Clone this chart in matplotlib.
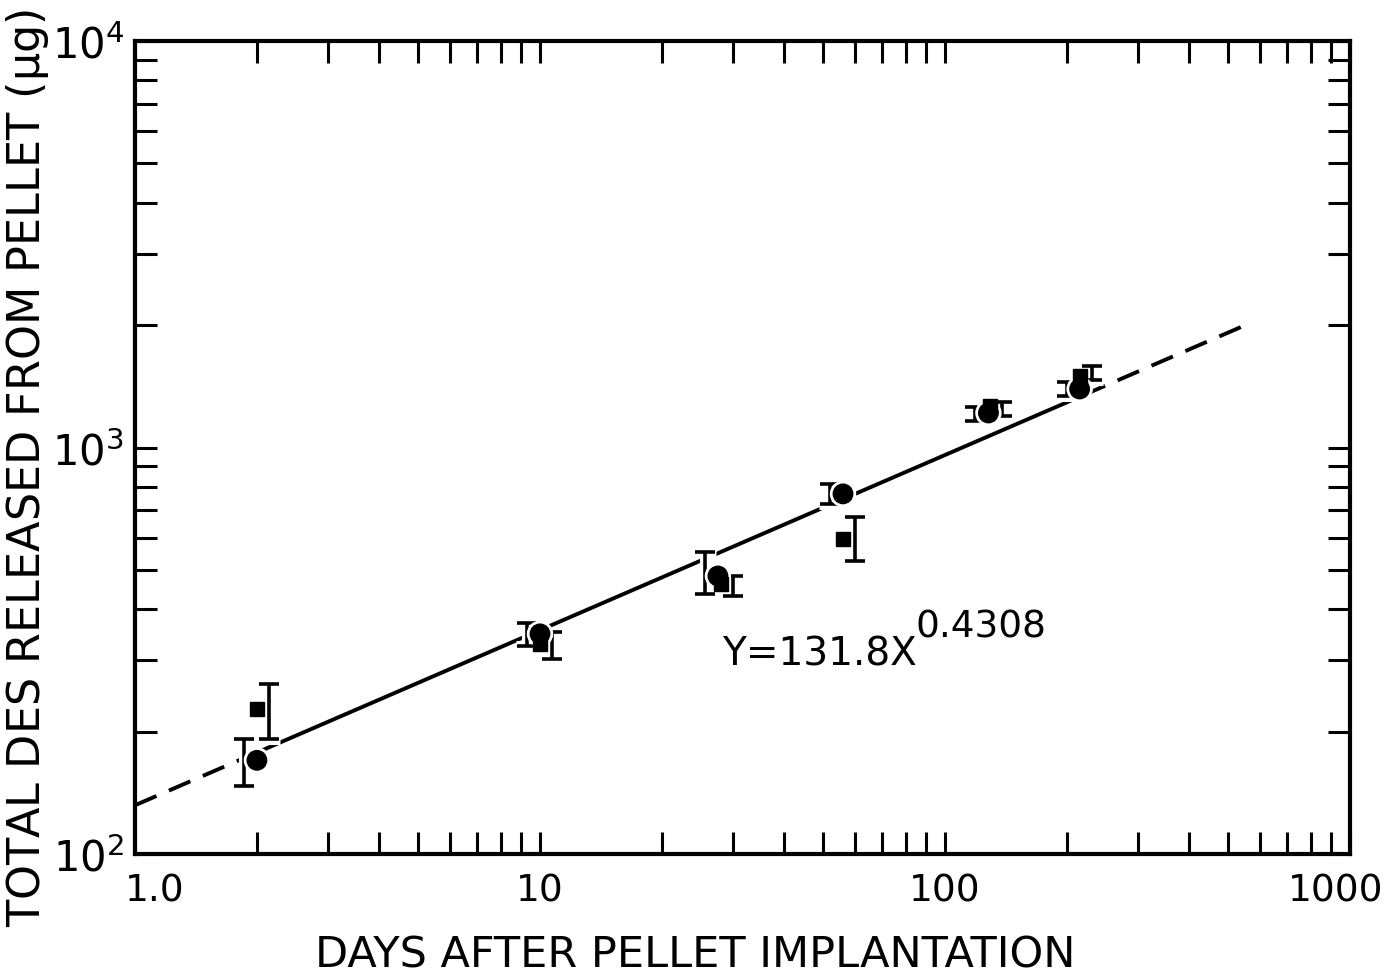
import numpy as np
import matplotlib
matplotlib.use("Agg")
import matplotlib.pyplot as plt
import matplotlib.transforms as mtransforms
import matplotlib.patheffects as pe
from matplotlib.ticker import FixedLocator, NullFormatter

# ---- data ----
days_circle = [2.0, 10.0, 27.5, 56.0, 128.0, 215.0]
des_circle = [170, 348, 483, 769, 1216, 1393]
circle_lo = [147, 325, 436, 726, 1161, 1339]
circle_hi = [192, 370, 553, 813, 1258, 1449]

days_square = [2.0, 10.0, 28.0, 56.0, 129.0, 215.0]
des_square = [227, 329, 461, 596, 1265, 1500]
square_lo = [192, 302, 431, 526, 1195, 1468]
square_hi = [262, 352, 483, 675, 1294, 1585]

fit_a = 131.8
fit_b = 0.4308
fit_solid_range = [2.0, 220.0]
fit_dash_left = [1.0, 2.0]
fit_dash_right = [220.0, 560.0]

x_major = [1, 10, 100, 1000]
x_major_labels = ["1.0", "10", "100", "1000"]
y_major = [100, 1000, 10000]
y_major_labels = [r"$10^{2}$", r"$10^{3}$", r"$10^{4}$"]

plt.rcParams['font.family'] = ['DejaVu Sans']
plt.rcParams['mathtext.default'] = 'regular'

W, H = 1393, 979
fig = plt.figure(figsize=(W / 100, H / 100), dpi=100)
ax = fig.add_axes([135/W, 1 - 855/H, (1350-135)/W, (855-42)/H])
ax.set_xscale('log')
ax.set_yscale('log')
ax.set_xlim(1, 1000)
ax.set_ylim(100, 10000)

def fit(x):
    return fit_a * np.power(x, fit_b)

xs = np.geomspace(*fit_solid_range, 200)
ax.plot(xs, fit(xs), color='black', lw=2.8, zorder=2)
for rng in (fit_dash_left, fit_dash_right):
    xd = np.geomspace(*rng, 100)
    ax.plot(xd, fit(xd), color='black', lw=2.8, ls=(0, (6, 3.5)), zorder=2)

left_shift = mtransforms.offset_copy(ax.transData, fig=fig, x=-13, y=0, units='dots')
right_shift = mtransforms.offset_copy(ax.transData, fig=fig, x=12, y=0, units='dots')

dc = np.array(des_circle)
ds = np.array(des_square)
err_c = [dc - np.array(circle_lo), np.array(circle_hi) - dc]
err_s = [ds - np.array(square_lo), np.array(square_hi) - ds]

# white halo underneath (creates the gaps in the fitted line)
for x, y, e, tr in ((days_circle, dc, err_c, left_shift), (days_square, ds, err_s, right_shift)):
    ax.errorbar(x, y, yerr=e, fmt='none', ecolor='white', elinewidth=8, capsize=8,
                capthick=8, transform=tr, zorder=2.5)
    ax.errorbar(x, y, yerr=e, fmt='none', ecolor='black', elinewidth=2.6, capsize=7,
                capthick=2.6, transform=tr, zorder=3)

l1, = ax.plot(days_circle, des_circle, 'o', color='black', ms=14, zorder=4)
l2, = ax.plot(days_square, des_square, 's', color='black', ms=10, zorder=4)
l1.set_path_effects([pe.Stroke(linewidth=5, foreground='white'), pe.Normal()])

fig.text(722/W, 1 - 655/H, "Y=131.8X", fontsize=28, va='center', ha='left')
fig.text(915/W, 1 - 628/H, "0.4308", fontsize=27, va='center', ha='left')

# axes styling
for s in ax.spines.values():
    s.set_linewidth(3)
ax.xaxis.set_major_locator(FixedLocator(x_major))
ax.set_xticklabels(x_major_labels)
ax.xaxis.set_minor_locator(FixedLocator([m * d for d in (1, 10, 100) for m in range(2, 10)]))
ax.xaxis.set_minor_formatter(NullFormatter())
ax.yaxis.set_major_locator(FixedLocator(y_major))
ax.set_yticklabels(y_major_labels)
ax.yaxis.set_minor_locator(FixedLocator([m * d for d in (100, 1000) for m in range(2, 10)]))
ax.yaxis.set_minor_formatter(NullFormatter())
ax.tick_params(which='both', direction='in', top=True, right=True, length=16, width=2.2)
ax.tick_params(axis='x', which='major', labelsize=27, pad=13)
ax.tick_params(axis='y', which='major', labelsize=30, pad=8)

# nudge the first and last x tick labels like the reference
lbls = ax.get_xticklabels()
lbls[0].set_transform(lbls[0].get_transform() +
                      mtransforms.ScaledTranslation(0.2, 0, fig.dpi_scale_trans))
lbls[-1].set_transform(lbls[-1].get_transform() +
                       mtransforms.ScaledTranslation(-0.14, 0, fig.dpi_scale_trans))

fig.text(695/W, 1 - 968/H, "DAYS AFTER PELLET IMPLANTATION", fontsize=31,
         ha='center', va='baseline')
fig.text(28/W, 1 - 468/H, r"TOTAL DES RELEASED FROM PELLET ($\mu$g)", fontsize=32,
         ha='center', va='center', rotation=90)

fig.savefig("out.png", dpi=100)
